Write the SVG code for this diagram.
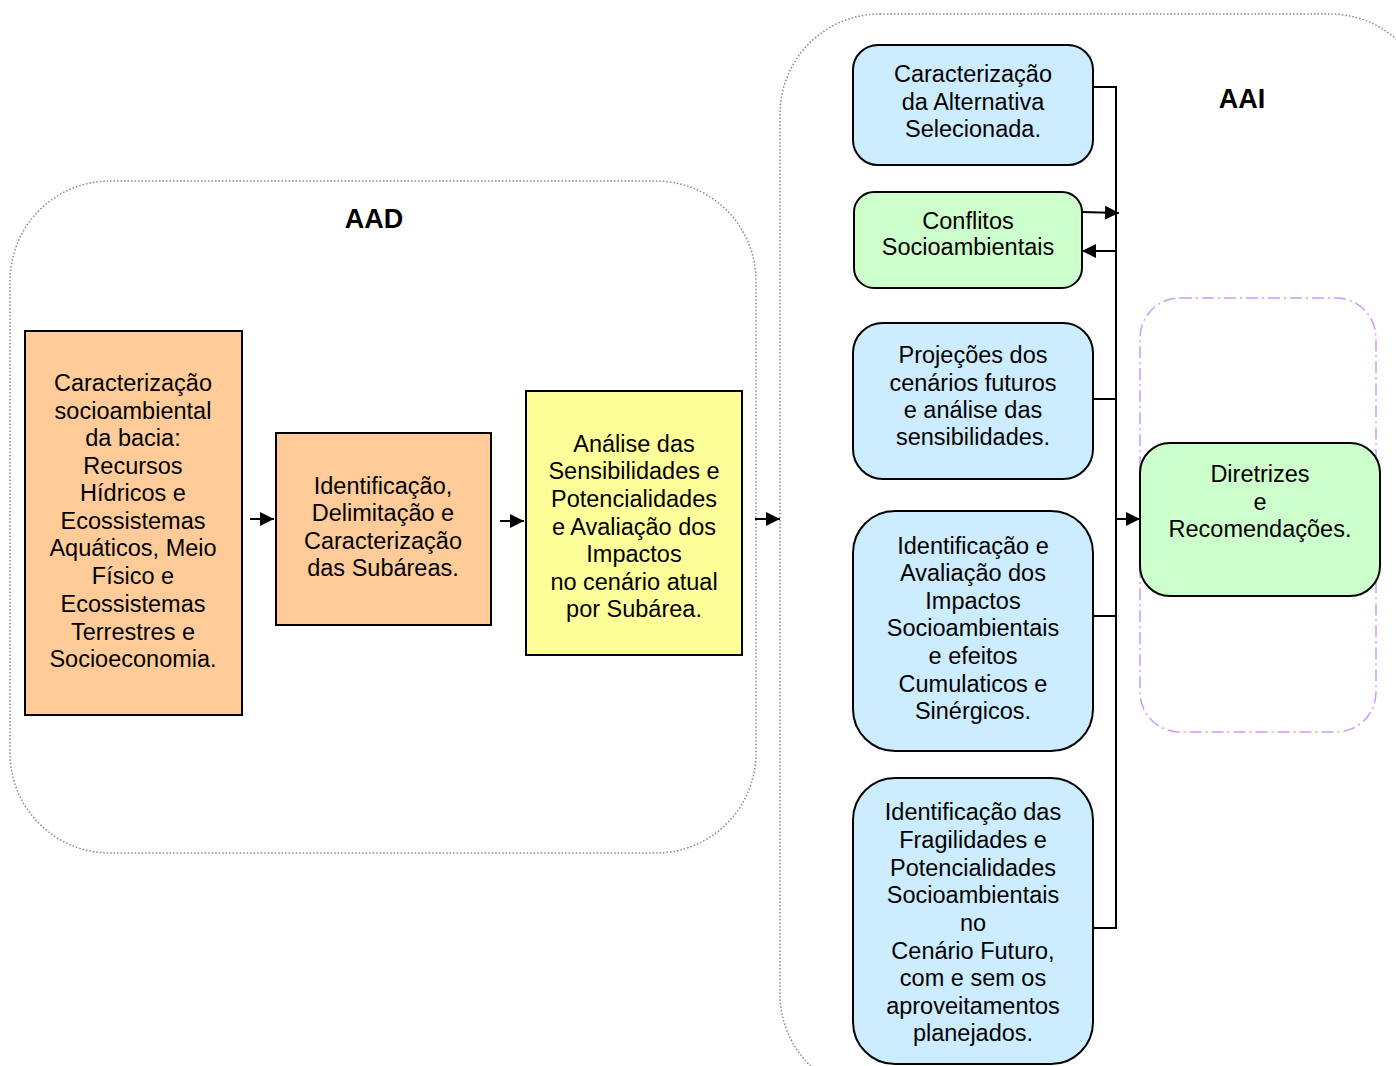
<svg xmlns="http://www.w3.org/2000/svg" width="1396" height="1066" viewBox="0 0 1396 1066">
<defs>
<marker id="ah" viewBox="0 0 10 10" refX="10" refY="5" markerWidth="14" markerHeight="14" markerUnits="userSpaceOnUse" orient="auto"><path d="M0,0 L10,5 L0,10 z" fill="#000"/></marker>
<style>
.t{font-family:"Liberation Sans",Arial,sans-serif;font-size:23.5px;fill:#000;text-anchor:middle}
.h{font-family:"Liberation Sans",Arial,sans-serif;font-size:27px;font-weight:bold;fill:#000;text-anchor:middle}
.cont{fill:none;stroke:#888;stroke-width:1.5;stroke-dasharray:1.5 2}
.box{stroke:#000;stroke-width:2}
.or{fill:#FFCC99}
.ye{fill:#FFFF99}
.bl{fill:#CCECFF}
.gr{fill:#CCFFCC}
.ln{fill:none;stroke:#000;stroke-width:2}
</style>
</defs>
<rect width="1396" height="1066" fill="#fff"/>
<g id="AAD">
<rect class="cont" x="10" y="181" width="746" height="672" rx="100" ry="100"/>
<text class="h" x="374" y="228">AAD</text>
</g>
<g id="AAI">
<rect class="cont" x="780" y="14" width="650" height="1080" rx="100" ry="100"/>
<text class="h" x="1242" y="108">AAI</text>
</g>
<g id="purple">
<rect x="1140" y="298" width="236" height="434" rx="40" ry="40" fill="none" stroke="#CC99FF" stroke-width="1.5" stroke-dasharray="12 4 2 4"/>
</g>
<g id="n1">
<rect class="box or" x="25" y="331" width="217" height="384"/>
<text class="t"><tspan x="133" y="391">Caracterização</tspan><tspan x="133" y="419">socioambiental</tspan><tspan x="133" y="446">da bacia:</tspan><tspan x="133" y="474">Recursos</tspan><tspan x="133" y="501">Hídricos e</tspan><tspan x="133" y="529">Ecossistemas</tspan><tspan x="133" y="556">Aquáticos, Meio</tspan><tspan x="133" y="584">Físico e</tspan><tspan x="133" y="612">Ecossistemas</tspan><tspan x="133" y="640">Terrestres e</tspan><tspan x="133" y="667">Socioeconomia.</tspan></text>
</g>
<g id="n2">
<rect class="box or" x="276" y="433" width="215" height="192"/>
<text class="t"><tspan x="383" y="494">Identificação,</tspan><tspan x="383" y="521">Delimitação e</tspan><tspan x="383" y="549">Caracterização</tspan><tspan x="383" y="576">das Subáreas.</tspan></text>
</g>
<g id="n3">
<rect class="box ye" x="526" y="391" width="216" height="264"/>
<text class="t"><tspan x="634" y="452">Análise das</tspan><tspan x="634" y="479">Sensibilidades e</tspan><tspan x="634" y="507">Potencialidades</tspan><tspan x="634" y="535">e Avaliação dos</tspan><tspan x="634" y="562">Impactos</tspan><tspan x="634" y="590">no cenário atual</tspan><tspan x="634" y="617">por Subárea.</tspan></text>
</g>
<g id="b1">
<rect class="box bl" x="853" y="45" width="240" height="120" rx="25" ry="25"/>
<text class="t"><tspan x="973" y="82">Caracterização</tspan><tspan x="973" y="110">da Alternativa</tspan><tspan x="973" y="137">Selecionada.</tspan></text>
</g>
<g id="g1">
<rect class="box gr" x="854" y="192" width="228" height="96" rx="20" ry="20"/>
<text class="t"><tspan x="968" y="229">Conflitos</tspan><tspan x="968" y="255">Socioambientais</tspan></text>
</g>
<g id="b2">
<rect class="box bl" x="853" y="323" width="240" height="156" rx="30" ry="30"/>
<text class="t"><tspan x="973" y="363">Projeções dos</tspan><tspan x="973" y="391">cenários futuros</tspan><tspan x="973" y="418">e análise das</tspan><tspan x="973" y="445">sensibilidades.</tspan></text>
</g>
<g id="b3">
<rect class="box bl" x="853" y="511" width="240" height="240" rx="42" ry="42"/>
<text class="t"><tspan x="973" y="554">Identificação e</tspan><tspan x="973" y="581">Avaliação dos</tspan><tspan x="973" y="609">Impactos</tspan><tspan x="973" y="636">Socioambientais</tspan><tspan x="973" y="664">e efeitos</tspan><tspan x="973" y="692">Cumulaticos e</tspan><tspan x="973" y="719">Sinérgicos.</tspan></text>
</g>
<g id="b4">
<rect class="box bl" x="853" y="778" width="240" height="286" rx="42" ry="42"/>
<text class="t"><tspan x="973" y="820">Identificação das</tspan><tspan x="973" y="848">Fragilidades e</tspan><tspan x="973" y="876">Potencialidades</tspan><tspan x="973" y="903">Socioambientais</tspan><tspan x="973" y="931">no</tspan><tspan x="973" y="959">Cenário Futuro,</tspan><tspan x="973" y="986">com e sem os</tspan><tspan x="973" y="1014">aproveitamentos</tspan><tspan x="973" y="1041">planejados.</tspan></text>
</g>
<g id="g2">
<rect class="box gr" x="1140" y="443" width="240" height="153" rx="30" ry="30"/>
<text class="t"><tspan x="1260" y="482">Diretrizes</tspan><tspan x="1260" y="510">e</tspan><tspan x="1260" y="537">Recomendações.</tspan></text>
</g>
<g id="connectors">
<line class="ln" x1="250" y1="519" x2="274" y2="519" marker-end="url(#ah)"/>
<line class="ln" x1="500" y1="521" x2="524" y2="521" marker-end="url(#ah)"/>
<line class="ln" x1="755" y1="519" x2="780" y2="519" marker-end="url(#ah)"/>
<polyline class="ln" points="1093,87 1116,87 1116,928 1093,928"/>
<line class="ln" x1="1093" y1="399" x2="1116" y2="399"/>
<line class="ln" x1="1093" y1="616" x2="1116" y2="616"/>
<line class="ln" x1="1082" y1="212" x2="1119" y2="213" marker-end="url(#ah)"/>
<line class="ln" x1="1116" y1="251" x2="1082" y2="251" marker-end="url(#ah)"/>
<line class="ln" x1="1115" y1="519" x2="1140" y2="519" marker-end="url(#ah)"/>
</g>
</svg>
